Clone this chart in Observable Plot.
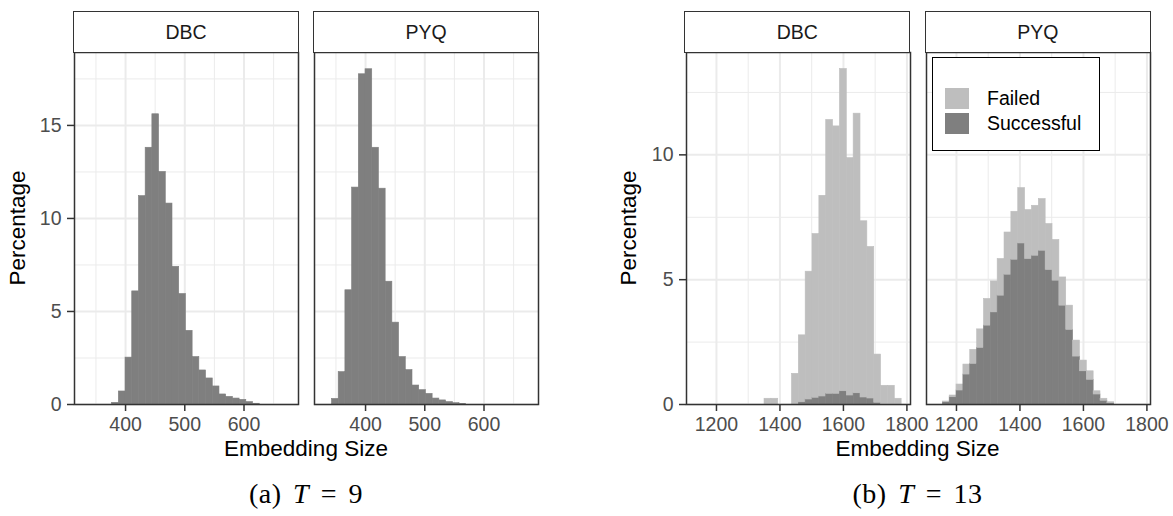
<!DOCTYPE html>
<html><head><meta charset="utf-8">
<script src="https://cdn.jsdelivr.net/npm/d3@7"></script>
<script src="https://cdn.jsdelivr.net/npm/@observablehq/plot@0.6"></script>
<style>
body{margin:0;background:#fff;}
#root{position:relative;width:1173px;height:516px;overflow:hidden;font-family:"Liberation Sans",Arial,sans-serif;}
.strip{position:absolute;box-sizing:border-box;border:1.5px solid #333;background:#fff;font-size:19.5px;color:#1a1a1a;display:flex;align-items:center;justify-content:center;}
.lbl{position:absolute;white-space:nowrap;line-height:1;transform:translate(-50%,-50%);font-size:22.5px;color:#000;}
.ylbl{transform:translate(-50%,-50%) rotate(-90deg);}
.cap{position:absolute;white-space:nowrap;line-height:1;transform:translate(-50%,-50%);font-family:"Liberation Serif","Times New Roman",serif;font-size:28px;word-spacing:4px;letter-spacing:0.5px;color:#000;}
.legend{position:absolute;box-sizing:border-box;border:1.5px solid #000;background:#fff;}
.key{position:absolute;width:24px;height:21px;}
.ktxt{position:absolute;font-size:19.5px;line-height:1;color:#000;transform:translateY(-50%);white-space:nowrap;}
svg{position:absolute;overflow:visible;}
</style></head><body><div id="root"></div>
<script>
// ---------- data ----------
const panels = ["DBC", "PYQ"];
const statuses = ["Failed", "Successful"];

// (a) T = 9
const xTicks9 = [400, 500, 600];
const xMinor9 = [350, 450, 550, 650];
const yTicks9 = [0, 5, 10, 15];
const yMinor9 = [2.5, 7.5, 12.5, 17.5];
const binStart9 = 343.3, binWidth9 = 11.33;
const dbc9 = [0, 0, 0, 0.09, 0.70, 2.52, 6.08, 11.2, 13.8, 15.6, 12.5, 10.8, 7.4, 5.94, 3.96, 2.55, 1.83, 1.40, 0.97, 0.54, 0.41, 0.32, 0.25, 0.13, 0.04];
const pyq9 = [0.30, 1.74, 6.14, 11.66, 17.75, 18.02, 13.8, 11.6, 6.6, 4.4, 2.55, 1.85, 1.02, 0.77, 0.57, 0.32, 0.22, 0.13, 0.07, 0.03];

// (b) T = 13
const xTicks13 = [1200, 1400, 1600, 1800];
const xMinor13 = [1300, 1500, 1700];
const yTicks13 = [0, 5, 10];
const yMinor13 = [2.5, 7.5, 12.5];
const binStart13 = 1157, binWidth13 = 21.6;
const dbc13Successful = [0,0,0,0,0,0,0,0,0,0,0,0,0,0, 0.09, 0.20, 0.27, 0.32, 0.43, 0.43, 0.53, 0.36, 0.45, 0.28, 0.24, 0.07, 0, 0, 0];
const dbc13Failed     = [0,0,0,0,0,0,0,0,0, 0.23, 0.23, 0, 0, 1.23, 2.68, 5.12, 6.56, 8.04, 10.97, 10.71, 12.91, 9.51, 11.2, 7.06, 6.07, 1.93, 0.75, 0.75, 0.23];
const pyq13Successful = [0.09, 0.29, 0.56, 1.2, 1.63, 2.27, 3.16, 3.69, 4.36, 5.2, 5.8, 6.45, 5.83, 5.96, 6.16, 5.39, 4.96, 3.96, 2.99, 1.92, 1.33, 0.99, 0.40, 0.15, 0.05];
const pyq13Failed     = [0.03, 0.07, 0.24, 0.40, 0.56, 0.74, 1.07, 1.24, 1.47, 1.69, 1.92, 2.22, 1.96, 2.0, 2.07, 1.84, 1.63, 1.13, 0.97, 0.64, 0.43, 0.34, 0.13, 0.08, 0.04];

// ---------- build tables ----------
function single(panel, vals, start, w) {
  return vals.map((v, i) => ({panel, x1: start + i * w, x2: start + (i + 1) * w, y1: 0, y2: v})).filter(d => d.y2 > 0);
}
function stacked(panel, succ, fail, start, w) {
  const rows = [];
  succ.forEach((s, i) => {
    const f = fail[i] || 0;
    if (s > 0) rows.push({panel, status: "Successful", x1: start + i * w, x2: start + (i + 1) * w, y1: 0, y2: s});
    if (f > 0) rows.push({panel, status: "Failed", x1: start + i * w, x2: start + (i + 1) * w, y1: s, y2: s + f});
  });
  return rows;
}
const rows9 = [...single("DBC", dbc9, binStart9, binWidth9), ...single("PYQ", pyq9, binStart9, binWidth9)];
const rows13 = [...stacked("DBC", dbc13Successful, dbc13Failed, binStart13, binWidth13),
                ...stacked("PYQ", pyq13Successful, pyq13Failed, binStart13, binWidth13)];

const FONT = '"Liberation Sans", Arial, sans-serif';
const GRID = "#EBEBEB";
const fmt = d3.format("d");

function facetPlot({rows, width, marginLeft, xDomain, yDomain, xTicks, xMinor, yTicks, yMinor, pad, color}) {
  const fillOpt = color ? "status" : "#7F7F7F";
  return Plot.plot({
    width, height: 396, marginLeft, marginRight: 2, marginTop: 2, marginBottom: 42,
    style: {fontFamily: FONT, fontSize: "19.5px", background: "transparent", overflow: "visible"},
    x: {domain: xDomain, label: null},
    y: {domain: yDomain, label: null},
    fx: {domain: panels, paddingInner: pad, paddingOuter: 0, axis: null, label: null},
    color,
    marks: [
      Plot.gridX(xMinor, {stroke: GRID, strokeOpacity: 1, strokeWidth: 1}),
      Plot.gridY(yMinor, {stroke: GRID, strokeOpacity: 1, strokeWidth: 1}),
      Plot.gridX(xTicks, {stroke: GRID, strokeOpacity: 1, strokeWidth: 2}),
      Plot.gridY(yTicks, {stroke: GRID, strokeOpacity: 1, strokeWidth: 2}),
      Plot.rect(rows, {x1: "x1", x2: "x2", y1: "y1", y2: "y2", fx: "panel", inset: 0,
        fill: fillOpt, stroke: fillOpt, strokeWidth: 0.6}),
      Plot.frame({stroke: "#333", strokeWidth: 1.5}),
      Plot.axisX(xTicks, {tickSize: 7, tickPadding: 6, fontSize: 19.5, stroke: "#333", fill: "#4D4D4D", strokeWidth: 1.5, label: null, tickFormat: fmt}),
      Plot.axisY(yTicks, {tickSize: 7, tickPadding: 6, fontSize: 19.5, stroke: "#333", fill: "#4D4D4D", strokeWidth: 1.5, label: null, tickFormat: fmt})
    ]
  });
}

const root = document.getElementById("root");

const plotA = facetPlot({rows: rows9, width: 540, marginLeft: 74, xDomain: [313.8, 692], yDomain: [0, 18.92],
  xTicks: xTicks9, xMinor: xMinor9, yTicks: yTicks9, yMinor: yMinor9, pad: 0.0667});
plotA.style.left = "0px"; plotA.style.top = "50px";
root.appendChild(plotA);

const plotB = facetPlot({rows: rows13, width: 552, marginLeft: 85, xDomain: [1105.6, 1811.3], yDomain: [0, 14.1],
  xTicks: xTicks13, xMinor: xMinor13, yTicks: yTicks13, yMinor: yMinor13, pad: 0.0681,
  color: {domain: statuses, range: ["#BEBEBE", "#7F7F7F"]}});
plotB.style.left = "600px"; plotB.style.top = "50px";
root.appendChild(plotB);

function add(html) { root.insertAdjacentHTML("beforeend", html); }
// strips
[[74, 224, "DBC"], [314, 224, "PYQ"], [685, 224.5, "DBC"], [925.5, 224.5, "PYQ"]].forEach(([l, w, t]) => {
  add(`<div class="strip" style="left:${l - 0.75}px;top:11px;width:${w + 1.5}px;height:42px">${t}</div>`);
});
// axis titles
add(`<div class="lbl ylbl" style="left:18px;top:228px">Percentage</div>`);
add(`<div class="lbl ylbl" style="left:629px;top:228px">Percentage</div>`);
add(`<div class="lbl" style="left:306px;top:449px">Embedding Size</div>`);
add(`<div class="lbl" style="left:917.5px;top:449px">Embedding Size</div>`);
// captions
add(`<div class="cap" style="left:306px;top:494px">(a) <i>T</i> = 9</div>`);
add(`<div class="cap" style="left:917.5px;top:494px">(b) <i>T</i> = 13</div>`);
// legend
add(`<div class="legend" style="left:931.5px;top:57px;width:168px;height:94px"></div>`);
add(`<div class="key" style="left:945px;top:88px;background:#BEBEBE"></div>`);
add(`<div class="key" style="left:945px;top:113px;background:#7F7F7F"></div>`);
add(`<div class="ktxt" style="left:987px;top:99px">${statuses[0]}</div>`);
add(`<div class="ktxt" style="left:987px;top:124px">${statuses[1]}</div>`);
</script></body></html>
